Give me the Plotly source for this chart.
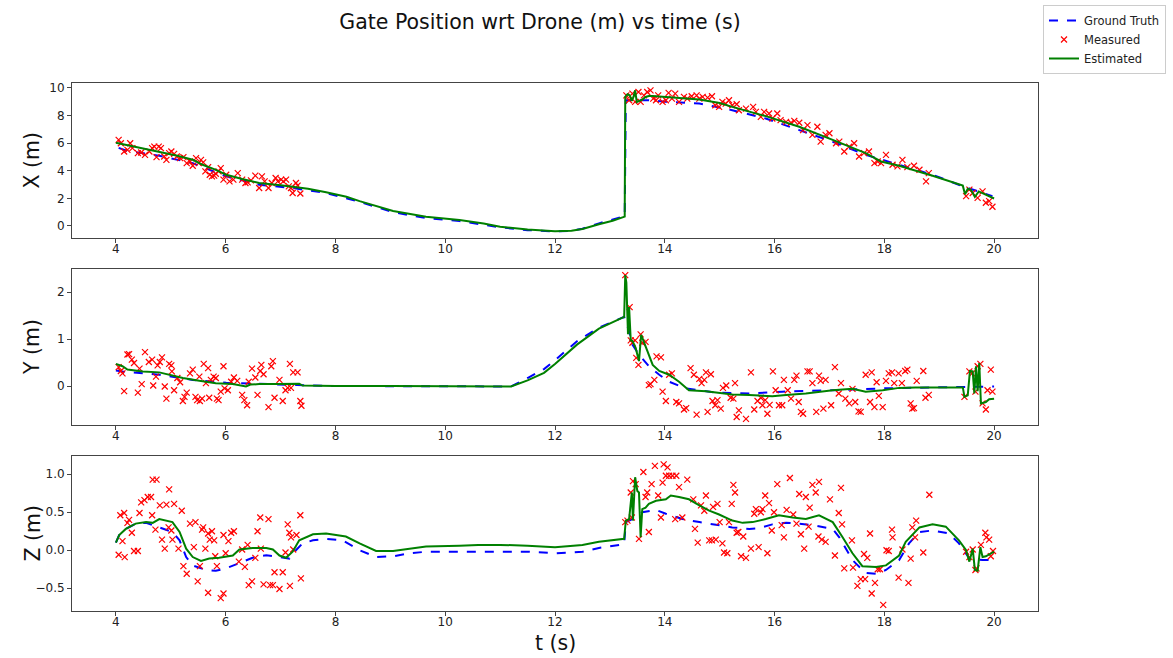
import plotly.graph_objects as go

# ---------------- data ----------------
x_gt_t = [4.05, 4.18, 4.79, 5.40, 5.58, 6.01, 6.61, 7.22, 7.83, 8.44, 9.05, 9.65, 10.26, 10.7, 11.0, 11.5, 12.0, 12.3, 12.5, 12.8, 13.05, 13.27,
          13.29, 13.71, 14.02, 14.63, 15.23, 15.84, 16.45, 17.06, 17.66, 18.27, 18.88, 19.43, 19.97]
x_gt = [5.65, 5.46, 5.08, 4.55, 4.26, 3.59, 2.99, 2.75, 2.39, 1.75, 1.0, 0.57, 0.36, 0.1, -0.1, -0.3, -0.4, -0.35, -0.2, 0.19, 0.45, 0.72,
        9.1, 9.1, 9.0, 8.86, 8.38, 7.78, 6.94, 6.1, 5.15, 4.43, 3.71, 2.87, 2.16]

x_est_t = [4.0, 4.18, 4.5, 4.79, 5.1, 5.40, 5.58, 5.8, 6.01, 6.3, 6.61, 7.0, 7.22, 7.5, 7.83, 8.2, 8.44, 9.05, 9.65, 10.26, 10.7, 11.0, 11.5, 12.0, 12.3, 12.5, 12.8, 13.05, 13.27,
           13.28, 13.32, 13.36, 13.40, 13.43, 13.46, 13.49, 13.53, 13.59, 13.65, 13.71, 13.78, 14.02, 14.63, 15.0, 15.23, 15.84, 16.45, 17.06, 17.66, 17.94, 18.27, 18.88, 19.43,
           19.47, 19.52, 19.58, 19.65, 19.72, 19.80, 20.0]
x_est = [6.02, 5.87, 5.6, 5.39, 5.1, 4.79, 4.43, 4.1, 3.71, 3.4, 3.11, 2.95, 2.83, 2.7, 2.44, 2.12, 1.80, 1.08, 0.67, 0.43, 0.18, -0.05, -0.26, -0.38, -0.35, -0.22, 0.12, 0.38, 0.68,
         9.34, 9.53, 9.46, 9.05, 9.34, 9.82, 8.98, 9.05, 9.15, 9.34, 9.41, 9.41, 9.34, 9.15, 8.9, 8.62, 7.95, 7.18, 6.23, 5.27, 4.67, 4.36, 3.64, 2.92,
         2.3, 2.7, 2.6, 2.1, 2.5, 2.35, 1.99]

x_meas_t = [4.05, 4.09, 4.15, 4.21, 4.26, 4.30, 4.40, 4.46, 4.53, 4.61, 4.66, 4.70, 4.74, 4.78, 4.82, 4.88, 4.92, 4.97, 5.01, 5.06, 5.11, 5.17, 5.23, 5.29,
            5.35, 5.40, 5.46, 5.51, 5.55, 5.59, 5.63, 5.68, 5.71, 5.75, 5.79, 5.82, 5.87, 5.91, 5.96, 6.01, 6.07, 6.14, 6.22, 6.30, 6.36, 6.40, 6.46, 6.54,
            6.61, 6.66, 6.71, 6.78, 6.84, 6.91, 6.95, 7.01, 7.05, 7.10, 7.15, 7.19, 7.22, 7.28, 7.31, 7.36,
            13.30, 13.35, 13.41, 13.46, 13.52, 13.56, 13.62, 13.68, 13.74, 13.79, 13.84, 13.88, 13.96, 14.02, 14.07, 14.13, 14.19, 14.26, 14.35, 14.41,
            14.49, 14.58, 14.63, 14.69, 14.78, 14.86, 14.92, 14.99, 15.05, 15.11, 15.17, 15.23, 15.31, 15.35, 15.48, 15.61, 15.66, 15.75, 15.81, 15.90,
            15.96, 16.05, 16.11, 16.21, 16.30, 16.36, 16.45, 16.52, 16.60, 16.69, 16.78, 16.84, 16.93, 17.00, 17.12, 17.18, 17.27, 17.36, 17.45, 17.54,
            17.63, 17.72, 17.82, 17.88, 17.94, 18.03, 18.15, 18.24, 18.33, 18.42, 18.54, 18.64, 18.76, 18.81, 19.49, 19.55, 19.61, 19.70, 19.79, 19.85,
            19.91, 19.97]
x_meas = [6.23, 5.99, 5.39, 5.51, 5.99, 5.63, 5.27, 5.32, 5.15, 5.39, 5.63, 5.75, 4.98, 5.75, 5.63, 5.03, 4.79, 5.27, 5.39, 5.22, 5.03, 4.91, 4.98, 4.55,
          4.67, 4.36, 4.91, 4.55, 4.79, 4.60, 3.95, 4.26, 3.71, 3.59, 3.64, 3.78, 3.95, 4.19, 3.35, 3.71, 3.23, 3.35, 3.83, 3.35, 3.11, 3.16, 3.30, 3.64,
          2.75, 3.59, 3.23, 2.75, 3.11, 3.47, 3.23, 3.35, 3.23, 3.35, 2.87, 2.75, 2.39, 3.11, 2.92, 2.35,
          9.46, 9.10, 9.58, 8.98, 9.70, 8.98, 9.46, 9.70, 9.82, 9.22, 9.10, 9.46, 8.98, 9.10, 9.63, 9.22, 9.58, 8.98, 9.34, 9.22,
          9.39, 9.46, 9.22, 9.34, 9.29, 9.39, 8.74, 8.62, 8.98, 8.86, 9.10, 8.74, 8.81, 8.38, 8.50, 8.62, 8.26, 7.90, 8.26, 8.14,
          7.78, 8.14, 7.66, 7.54, 7.47, 7.61, 7.47, 6.94, 7.30, 6.59, 7.18, 6.11, 6.59, 6.71, 5.99, 6.11, 5.39, 5.75, 5.99, 5.03,
          5.27, 5.39, 4.55, 4.67, 4.55, 5.15, 4.43, 4.31, 4.79, 4.26, 4.36, 4.07, 3.23, 3.83, 2.16, 2.63, 2.39, 2.04, 2.51, 1.68,
          1.80, 1.39]

y_gt_t = [4.0, 4.12, 4.79, 5.40, 6.01, 6.61, 7.3, 8.0, 11.2, 11.5, 11.8, 12.0, 12.4, 12.8, 13.26, 13.35, 13.41, 13.53, 13.71, 13.9, 14.08, 14.38,
          14.93, 15.54, 16.14, 17.06, 17.97, 18.88, 20.0]
y_gt = [0.33, 0.31, 0.24, 0.13, 0.07, 0.04, 0.02, 0.0, -0.01, 0.17, 0.36, 0.55, 0.95, 1.24, 1.47, 1.17, 0.88, 0.67, 0.42, 0.24, 0.09, -0.05,
        -0.14, -0.16, -0.12, -0.09, -0.05, -0.03, -0.01]

y_est_t = [4.0, 4.12, 4.21, 4.49, 4.79, 4.97, 5.22, 5.52, 5.82, 6.13, 6.37, 6.45, 6.61, 6.92, 7.22, 7.34, 7.40, 8.0, 9.0, 10.0, 11.2, 11.5, 11.8, 12.0,
           12.4, 12.8, 13.26, 13.28, 13.30, 13.33, 13.35, 13.38, 13.41, 13.47, 13.53, 13.57, 13.61, 13.68, 13.78, 13.90, 14.08, 14.26, 14.44, 14.75,
           14.93, 15.23, 15.54, 15.96, 16.21, 16.57, 17.06, 17.42, 17.66, 17.97, 18.27, 18.57, 19.43, 19.46, 19.52, 19.56, 19.61, 19.64, 19.67, 19.70,
           19.73, 19.76, 19.79, 19.85, 19.91, 20.0]
y_est = [0.47, 0.42, 0.35, 0.31, 0.29, 0.24, 0.17, 0.11, 0.06, 0.04, -0.01, 0.03, 0.04, 0.04, 0.05, 0.05, 0.01, 0.0, 0.0, -0.01, -0.01, 0.12, 0.28, 0.47,
         0.88, 1.22, 1.47, 2.36, 2.2, 1.1, 1.68, 0.97, 0.96, 0.81, 0.53, 1.09, 0.96, 0.74, 0.45, 0.32, 0.24, 0.09, -0.09, -0.11,
         -0.14, -0.18, -0.19, -0.22, -0.19, -0.16, -0.09, -0.06, -0.12, -0.09, -0.04, -0.03, -0.03, -0.23, -0.2, 0.32, 0.31, -0.16, 0.42, -0.11,
         0.49, -0.37, -0.36, -0.34, -0.28, -0.27]

y_meas_t = [4.05, 4.09, 4.12, 4.15, 4.21, 4.24, 4.29, 4.33, 4.40, 4.43, 4.47, 4.53, 4.60, 4.66, 4.68, 4.73, 4.76, 4.80, 4.84, 4.89, 4.92, 4.97, 5.01, 5.02,
            5.06, 5.12, 5.17, 5.22, 5.25, 5.29, 5.35, 5.40, 5.45, 5.48, 5.52, 5.53, 5.57, 5.60, 5.64, 5.68, 5.70, 5.73, 5.78, 5.82, 5.84, 5.87, 5.91, 5.96,
            5.98, 6.04, 6.10, 6.15, 6.21, 6.30, 6.34, 6.39, 6.42, 6.48, 6.54, 6.58, 6.63, 6.65, 6.69, 6.78, 6.83, 6.86, 6.89, 6.98, 7.04, 7.09, 7.13, 7.17,
            7.19, 7.23, 7.31, 7.36, 7.38,
            13.28, 13.36, 13.38, 13.41, 13.46, 13.48, 13.52, 13.56, 13.59, 13.65, 13.71, 13.74, 13.81, 13.85, 13.93, 13.96, 14.02, 14.08, 14.13, 14.21,
            14.26, 14.35, 14.39, 14.47, 14.53, 14.58, 14.63, 14.67, 14.72, 14.75, 14.78, 14.84, 14.87, 14.92, 14.96, 15.02, 15.06, 15.12, 15.20, 15.25,
            15.28, 15.31, 15.35, 15.48, 15.57, 15.63, 15.69, 15.75, 15.78, 15.83, 15.87, 15.91, 15.97, 16.02, 16.08, 16.14, 16.17, 16.24, 16.30, 16.36,
            16.40, 16.44, 16.48, 16.52, 16.60, 16.64, 16.69, 16.76, 16.81, 16.84, 16.89, 16.93, 17.03, 17.10, 17.17, 17.21, 17.29, 17.36, 17.42, 17.47,
            17.53, 17.57, 17.66, 17.74, 17.77, 17.82, 17.86, 17.90, 17.97, 18.03, 18.08, 18.14, 18.18, 18.26, 18.32, 18.38, 18.42, 18.48, 18.51, 18.54,
            18.59, 18.71, 18.75, 18.81, 19.46, 19.55, 19.60, 19.66, 19.70, 19.75, 19.79, 19.85, 19.88, 19.94, 19.97]
y_meas = [0.40, 0.32, 0.27, -0.11, 0.67, 0.68, 0.56, 0.49, -0.14, 0.37, 0.04, 0.72, 0.51, 0.56, 0.01, 0.20, 0.44, 0.51, 0.61, -0.01, -0.27, 0.47, 0.44, 0.31,
          -0.09, 0.17, 0.08, -0.32, -0.23, -0.14, 0.27, 0.35, -0.23, -0.30, 0.20, -0.32, -0.27, 0.47, 0.06, 0.38, -0.25, 0.13, 0.20, 0.17, -0.27, -0.30, -0.12, 0.42,
          -0.05, -0.09, 0.09, 0.18, 0.11, -0.19, -0.30, -0.41, 0.09, 0.37, 0.18, -0.19, 0.32, 0.45, 0.25, -0.45, 0.42, 0.53, -0.25, 0.13, -0.32, -0.09, -0.04, 0.47,
          -0.04, 0.29, 0.29, -0.32, -0.42,
          2.36, 1.68, 0.97, 0.92, 0.97, 0.60, 0.45, 1.10, 0.92, 0.94, 0.02, 0.04, 0.13, 0.63, 0.61, -0.12, -0.32, 0.24, 0.27, -0.34,
          -0.37, -0.50, -0.47, 0.38, 0.24, -0.61, 0.15, 0.06, 0.13, 0.29, -0.55, 0.25, -0.32, -0.41, -0.30, -0.48, -0.04, 0.01, -0.25, -0.27,
          0.06, -0.66, -0.52, -0.70, 0.29, -0.50, -0.32, -0.25, -0.41, -0.30, -0.59, -0.40, 0.31, -0.09, -0.41, -0.41, 0.13, -0.09, -0.27, 0.13,
          0.22, -0.34, -0.55, -0.59, 0.31, 0.31, 0.06, -0.55, 0.22, 0.11, -0.48, 0.13, -0.41, 0.40, -0.16, 0.06, -0.27, -0.37, -0.06, -0.34,
          -0.54, -0.55, 0.24, -0.34, 0.29, -0.45, 0.08, -0.21, -0.45, 0.11, 0.27, 0.29, 0.06, 0.27, 0.06, 0.32, 0.35, -0.37, -0.48, -0.47,
          0.11, 0.32, -0.25, -0.19, -0.23, 0.31, 0.27, -0.12, 0.42, 0.47, -0.37, -0.50, -0.09, 0.35, -0.12]

z_gt_t = [4.0, 4.06, 4.18, 4.36, 4.55, 4.79, 5.03, 5.16, 5.28, 5.40, 5.64, 5.82, 6.0, 6.25, 6.49, 6.74, 6.98, 7.16, 7.28, 7.40, 7.59, 7.83, 8.13, 8.44,
          8.74, 9.05, 9.35, 9.65, 10.26, 11.0, 11.5, 12.0, 12.5, 12.8, 13.26, 13.29, 13.41, 13.59, 13.84, 14.02, 14.32, 14.63, 14.93, 15.23, 15.54,
          15.72, 15.96, 16.21, 16.45, 16.69, 17.06, 17.18, 17.42, 17.66, 17.85, 18.03, 18.27, 18.45, 18.64, 18.88, 19.18, 19.36, 19.55, 19.79, 19.97]
z_gt = [0.10, 0.2, 0.28, 0.35, 0.36, 0.30, 0.24, 0.13, -0.09, -0.2, -0.26, -0.27, -0.24, -0.17, -0.1, -0.065, -0.09, -0.11, 0.0, 0.09, 0.13, 0.15, 0.13, 0.0,
        -0.09, -0.08, -0.04, -0.02, -0.02, -0.02, -0.02, -0.04, -0.02, 0.03, 0.08, 0.37, 0.41, 0.5, 0.53, 0.48, 0.41, 0.37, 0.33, 0.30, 0.28,
        0.29, 0.34, 0.36, 0.35, 0.33, 0.28, 0.17, -0.13, -0.30, -0.31, -0.26, -0.13, 0.09, 0.24, 0.26, 0.22, 0.09, -0.11, -0.13, -0.13]

z_est_t = [4.0, 4.06, 4.18, 4.36, 4.55, 4.67, 4.79, 4.91, 5.03, 5.16, 5.28, 5.40, 5.55, 5.70, 5.88, 6.13, 6.25, 6.49, 6.74, 6.86, 6.98, 7.10, 7.22, 7.34,
           7.59, 7.83, 8.19, 8.44, 8.74, 9.05, 9.35, 9.65, 10.26, 10.6, 11.0, 11.5, 12.0, 12.5, 12.8, 13.26, 13.29, 13.35, 13.40, 13.42, 13.46, 13.50,
           13.53, 13.56, 13.59, 13.65, 13.71, 13.84, 14.02, 14.11, 14.26, 14.44, 14.63, 14.81, 14.99, 15.23, 15.42, 15.60, 15.84, 16.08, 16.33, 16.57,
           16.81, 17.06, 17.24, 17.42, 17.60, 17.85, 18.03, 18.27, 18.39, 18.64, 18.88, 19.12, 19.36, 19.49, 19.55, 19.61, 19.65, 19.70, 19.75, 19.79,
           19.85, 20.0]
z_est = [0.10, 0.2, 0.28, 0.35, 0.37, 0.36, 0.41, 0.39, 0.37, 0.24, 0.02, -0.09, -0.14, -0.11, -0.1, -0.07, 0.01, 0.03, 0.03, 0.01, -0.07, -0.1, -0.02, 0.13,
         0.21, 0.22, 0.18, 0.09, -0.01, -0.01, 0.02, 0.05, 0.06, 0.07, 0.07, 0.06, 0.04, 0.07, 0.11, 0.15, 0.39, 0.41, 0.76, 0.39, 0.96, 0.78,
         0.76, 0.17, 0.54, 0.56, 0.61, 0.65, 0.67, 0.72, 0.70, 0.67, 0.59, 0.52, 0.47, 0.39, 0.36, 0.37, 0.41, 0.46, 0.43, 0.41,
         0.46, 0.37, 0.17, -0.04, -0.21, -0.22, -0.20, -0.07, 0.11, 0.30, 0.34, 0.31, 0.13, 0.0, -0.15, 0.02, -0.26, -0.27, 0.04, -0.09,
         -0.08, -0.02]

z_meas_t = [4.05, 4.08, 4.12, 4.15, 4.16, 4.21, 4.24, 4.29, 4.33, 4.40, 4.43, 4.46, 4.52, 4.58, 4.64, 4.66, 4.67, 4.74, 4.72, 4.80, 4.84, 4.89, 4.92, 4.97,
            4.96, 5.01, 5.03, 5.06, 5.14, 5.20, 5.23, 5.29, 5.35, 5.42, 5.45, 5.49, 5.53, 5.57, 5.59, 5.63, 5.68, 5.68, 5.71, 5.75, 5.79, 5.81, 5.84, 5.91,
            5.96, 5.96, 6.00, 6.05, 6.10, 6.15, 6.24, 6.30, 6.35, 6.40, 6.42, 6.48, 6.54, 6.58, 6.63, 6.64, 6.69, 6.78, 6.81, 6.86, 6.89, 6.98, 7.04, 7.09,
            7.13, 7.17, 7.16, 7.19, 7.23, 7.29, 7.36, 7.37,
            13.28, 13.32, 13.38, 13.40, 13.42, 13.47, 13.53, 13.61, 13.65, 13.68, 13.71, 13.76, 13.82, 13.88, 13.93, 13.96, 13.98, 14.02, 14.05, 14.08,
            14.14, 14.19, 14.21, 14.26, 14.32, 14.41, 14.52, 14.55, 14.60, 14.66, 14.72, 14.75, 14.81, 14.86, 14.88, 14.93, 14.96, 15.00, 15.05, 15.08,
            15.14, 15.17, 15.22, 15.25, 15.28, 15.31, 15.34, 15.39, 15.43, 15.48, 15.57, 15.63, 15.66, 15.71, 15.75, 15.78, 15.83, 15.87, 15.90, 15.95,
            15.99, 16.05, 16.13, 16.17, 16.22, 16.28, 16.34, 16.40, 16.45, 16.48, 16.54, 16.57, 16.62, 16.64, 16.69, 16.75, 16.81, 16.80, 16.86, 16.93,
            17.01, 17.10, 17.17, 17.21, 17.23, 17.27, 17.41, 17.43, 17.51, 17.57, 17.63, 17.65, 17.69, 17.74, 17.77, 17.83, 17.88, 17.92, 17.98, 18.04,
            18.08, 18.14, 18.15, 18.26, 18.33, 18.44, 18.48, 18.51, 18.56, 18.58, 18.71, 18.82, 19.49, 19.55, 19.61, 19.66, 19.68, 19.76, 19.84, 19.86,
            19.91, 19.94, 19.98]
z_meas = [-0.06, 0.46, 0.12, 0.49, -0.09, 0.36, 0.40, 0.23, -0.01, -0.01, 0.49, 0.63, 0.66, 0.70, 0.70, 0.46, 0.93, 0.93, 0.27, 0.59, 0.14, 0.02, 0.60, 0.80,
          0.30, 0.26, 0.14, 0.61, 0.02, 0.52, -0.21, -0.31, 0.35, 0.04, 0.37, -0.41, -0.21, 0.27, 0.30, 0.02, -0.56, 0.22, 0.14, 0.25, 0.13, -0.08, -0.21, -0.63,
          -0.57, 0.20, -0.04, 0.12, 0.23, 0.25, -0.15, 0.01, -0.22, 0.07, -0.46, -0.41, -0.10, 0.25, 0.43, 0.02, -0.45, 0.41, -0.46, -0.46, -0.29, -0.51, -0.29, -0.03,
          0.34, -0.47, 0.23, 0.17, 0.01, 0.20, 0.46, -0.37,
          0.37, 0.39, 0.76, 0.43, 0.91, 0.87, 0.15, 1.03, 0.70, 0.76, 0.24, 0.87, 1.11, 0.72, 0.43, 0.89, 1.13, 0.98, 1.09, 0.98,
          0.98, 0.41, 0.98, 0.83, 0.43, 0.93, 0.67, 0.28, 0.10, 0.59, 0.52, 0.72, 0.13, 0.13, 0.57, 0.14, 0.61, 0.37, 0.09, -0.03,
          -0.04, 0.37, 0.61, 0.86, 0.76, 0.23, 0.24, -0.08, 0.18, -0.10, 0.02, 0.48, 0.54, 0.04, 0.50, 0.54, 0.72, -0.04, 0.62, 0.26,
          0.50, 0.87, 0.33, 0.17, 0.53, 0.95, 0.47, 0.35, 0.74, 0.21, 0.02, 0.70, 0.31, 0.56, 0.86, 0.76, 0.90, 0.18, 0.14, 0.11,
          0.67, -0.07, 0.49, 0.82, 0.34, -0.24, 0.13, -0.23, -0.47, -0.38, -0.05, -0.38, -0.10, 0.22, -0.57, -0.43, -0.25, -0.25, -0.72, 0.00,
          -0.01, 0.27, 0.17, -0.36, 0.01, -0.43, -0.11, 0.30, 0.17, 0.39, -0.03, 0.73, -0.02, -0.09, 0.01, -0.26, -0.24, 0.07, 0.23, 0.17,
          0.14, -0.08, -0.01]

x_ticks = [4, 6, 8, 10, 12, 14, 16, 18, 20]
panel_titles = ["X (m)", "Y (m)", "Z (m)"]
title_text = "Gate Position wrt Drone (m) vs time (s)"
x_title = "t (s)"

# ---------------- figure ----------------
W, H = 1173, 658
ML, MR, MT, MB = 72, 135, 83, 47
plot_w = W - ML - MR
plot_h = H - MT - MB

def dom(top_px, bot_px):
    return [(H - MB - bot_px) / plot_h, (H - MB - top_px) / plot_h]

domains = [dom(83, 238), dom(269, 425), dom(456, 611)]
yranges = [[-0.87, 10.35], [-0.83, 2.49], [-0.80, 1.24]]
ytickvals = [[0, 2, 4, 6, 8, 10], [0, 1, 2], [-0.5, 0.0, 0.5, 1.0]]
ytickfmt = [None, None, ".1f"]

BLUE, RED, GREEN = "#0000ff", "#ff0000", "#008000"
FONT = "DejaVu Sans"

fig = go.Figure()
series = [
    (x_gt_t, x_gt, x_meas_t, x_meas, x_est_t, x_est),
    (y_gt_t, y_gt, y_meas_t, y_meas, y_est_t, y_est),
    (z_gt_t, z_gt, z_meas_t, z_meas, z_est_t, z_est),
]
for i, (gt_t, gt, m_t, m, e_t, e) in enumerate(series):
    xa = "x" if i == 0 else f"x{i+1}"
    ya = "y" if i == 0 else f"y{i+1}"
    first = (i == 0)
    fig.add_trace(go.Scatter(x=gt_t, y=gt, mode="lines", name="Ground Truth",
                             line=dict(color=BLUE, width=2, dash="dash"),
                             xaxis=xa, yaxis=ya, showlegend=first, legendgroup="gt"))
    fig.add_trace(go.Scatter(x=m_t, y=m, mode="markers", name="Measured",
                             marker=dict(symbol="x-thin", size=6, color=RED,
                                         line=dict(color=RED, width=1.2)),
                             xaxis=xa, yaxis=ya, showlegend=first, legendgroup="m"))
    fig.add_trace(go.Scatter(x=e_t, y=e, mode="lines", name="Estimated",
                             line=dict(color=GREEN, width=2),
                             xaxis=xa, yaxis=ya, showlegend=first, legendgroup="e"))

axis_common = dict(showline=True, linecolor="#444", linewidth=1, mirror=True,
                   ticks="outside", ticklen=4, tickcolor="#444", showgrid=False,
                   zeroline=False, automargin=False,
                   tickfont=dict(size=12, color="#222", family=FONT))

layout = dict(
    width=W, height=H,
    margin=dict(l=ML, r=MR, t=MT, b=MB, autoexpand=False),
    plot_bgcolor="white", paper_bgcolor="white",
    font=dict(family=FONT, color="#222"),
    title=dict(text=title_text, x=540 / W, xanchor="center", xref="container",
               y=1 - 22 / H, yanchor="middle", yref="container",
               font=dict(size=20.5, family=FONT, color="#111")),
    legend=dict(x=1043 / W, y=1 - 5 / H, xref="container", yref="container",
                xanchor="left", yanchor="top", bordercolor="#cccccc", borderwidth=1,
                bgcolor="white", font=dict(size=11.5, family=FONT, color="#222"),
                tracegroupgap=0, itemwidth=30),
)
for i in range(3):
    xk = "xaxis" if i == 0 else f"xaxis{i+1}"
    yk = "yaxis" if i == 0 else f"yaxis{i+1}"
    ya = "y" if i == 0 else f"y{i+1}"
    xa = "x" if i == 0 else f"x{i+1}"
    layout[xk] = dict(axis_common, domain=[0, 1], anchor=ya, range=[3.2, 20.8],
                      tickvals=x_ticks, ticklabelstandoff=-4)
    yax = dict(axis_common, domain=domains[i], anchor=xa, range=yranges[i],
               tickvals=ytickvals[i])
    if ytickfmt[i]:
        yax["tickformat"] = ytickfmt[i]
    layout[yk] = yax
fig.update_layout(**layout)

annotations = []
for i, txt in enumerate(panel_titles):
    d = domains[i]
    annotations.append(dict(text=txt, xref="paper", yref="paper", x=(32 - ML) / plot_w,
                            y=(d[0] + d[1]) / 2, xanchor="center", yanchor="middle",
                            textangle=-90, showarrow=False,
                            font=dict(size=20.5, family=FONT, color="#111")))
annotations.append(dict(text=x_title, xref="paper", yref="paper", x=(555 - ML) / plot_w,
                        y=(H - MB - 643) / plot_h, xanchor="center", yanchor="middle",
                        showarrow=False, font=dict(size=20.5, family=FONT, color="#111")))
fig.update_layout(annotations=annotations)

fig.write_html("out.html", config={"displayModeBar": False},
               post_script="document.body.style.margin='0px';document.body.style.overflow='hidden';")
